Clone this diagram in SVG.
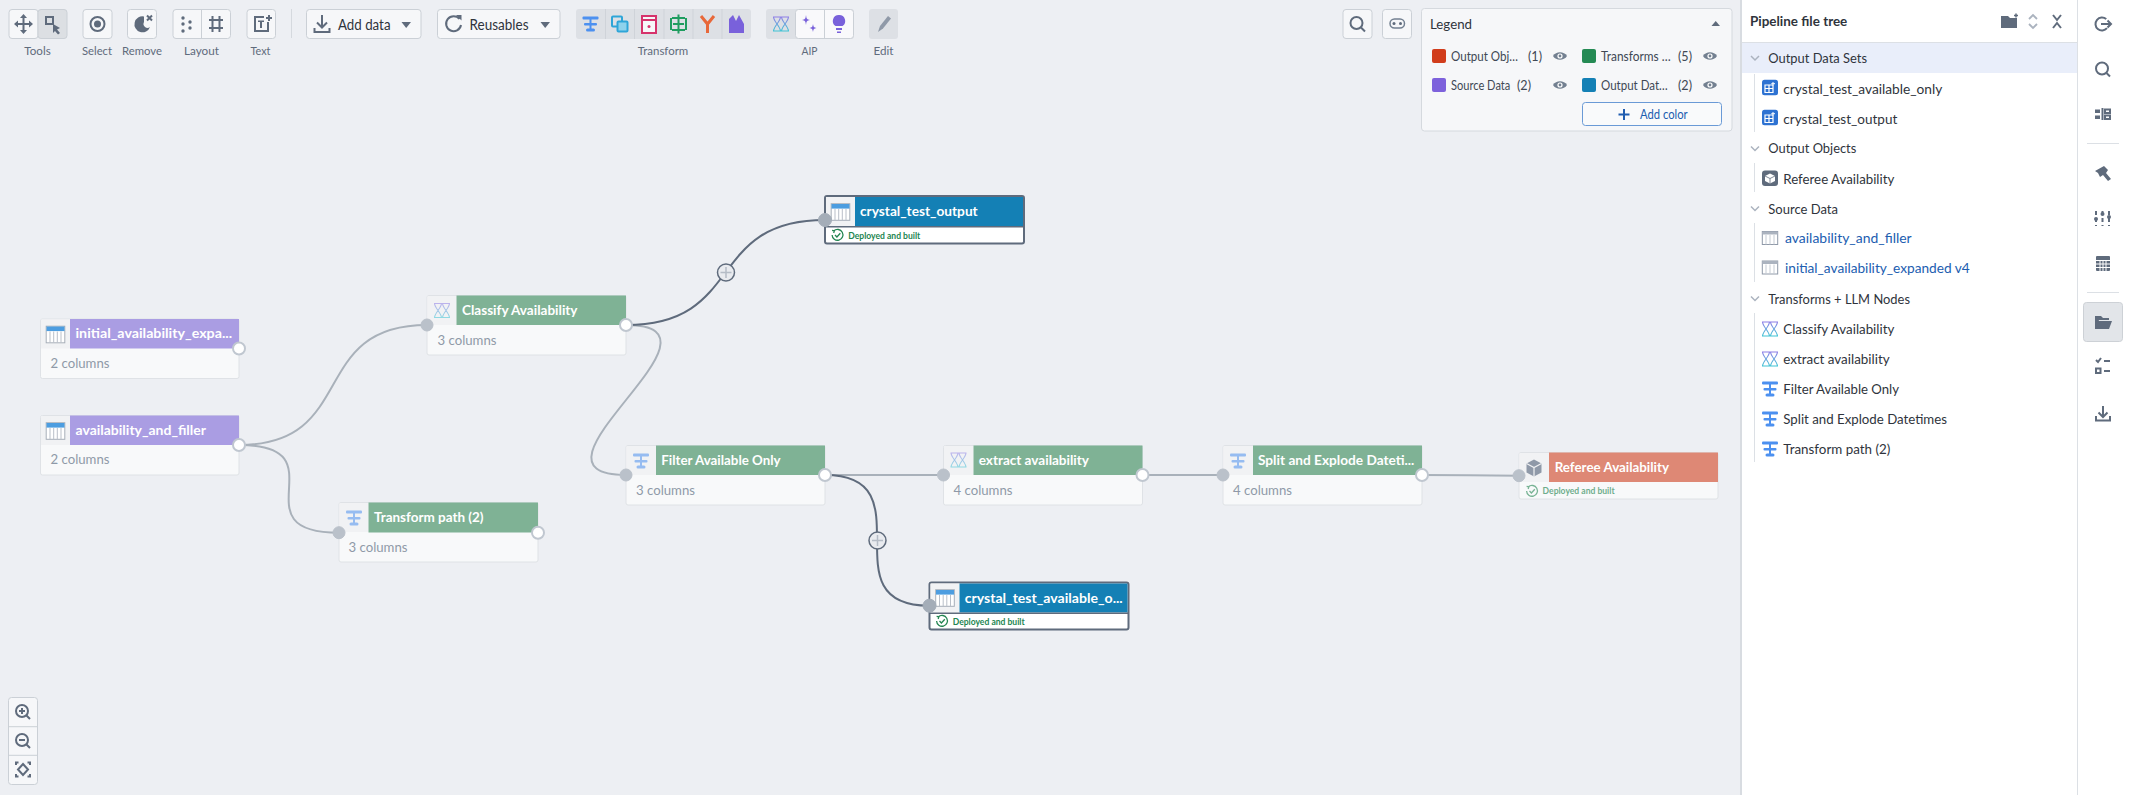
<svg xmlns="http://www.w3.org/2000/svg" width="2130" height="795" viewBox="0 0 2130 795">
<style>
text{font-family:"Lato","Open Sans","Liberation Sans",sans-serif}
.btn{fill:#f6f7f9;stroke:#cbd0d6;stroke-width:1}
.tl{font-size:12px;fill:#5f6b7c;text-anchor:middle}
.ic{fill:#5f6b7c}
.ics{fill:none;stroke:#5f6b7c;stroke-width:2}
.hd{font-size:14px;font-weight:700;fill:#fff}
.col{font-size:13.5px;fill:#8f99a8}
.body{fill:#f8f9fa;stroke:#dfe2e6;stroke-width:1}
.cell{fill:#f1f2f4}
.dep{font-size:9.5px;font-weight:700;fill:#238551}
.e{fill:none;stroke:#a9b1ba;stroke-width:2}
.ed{fill:none;stroke:#5f6b7c;stroke-width:2}
.pin{fill:#bac1ca;stroke:#bac1ca;stroke-width:1}
.pind{fill:#a4adb8;stroke:#a4adb8;stroke-width:1}
.pout{fill:#fff;stroke:#c0c7d0;stroke-width:2}
.lg{font-size:13px;fill:#404854}
.sec{font-size:14px;fill:#2f343c}
.it{font-size:14px;fill:#2f343c}
.lnk{font-size:14px;fill:#215db0}
.chev{fill:none;stroke:#abb3bf;stroke-width:1.5}
.guide{stroke:#dce0e5;stroke-width:1}
</style>
<defs>
<linearGradient id="gl" x1="0" y1="0" x2="0" y2="1"><stop offset="0" stop-color="#8f7ee6"/><stop offset="1" stop-color="#3fc4d4"/></linearGradient>
<g id="i-table"><rect x="-9.3" y="-8.3" width="18.6" height="16.6" fill="#fff" stroke="#a7aeb8" stroke-width="1"/><rect x="-9" y="-8" width="18" height="4.6" fill="#4c9de0"/><path d="M-5.5,-3V8M-1.8,-3V8M1.8,-3V8M5.5,-3V8" stroke="#b9bfc8" stroke-width="1"/></g>
<g id="i-filter" fill="#4c90f0"><rect x="-8" y="-7.5" width="16" height="3" rx="1"/><rect x="-1" y="-6" width="2" height="13"/><rect x="-6.5" y="-1" width="13" height="2.6" rx="1"/><rect x="-4.5" y="4.5" width="9" height="3" rx="1.5"/></g>
<path id="i-llm" d="M-8,-7H8M-8,7H8M-7.5,-7C-7,-2 -1,2 -0.500,7M-0.500,-7C-1,-2 -7,2 -7.5,7M0.500,-7C1,-2 7,2 7.5,7M7.5,-7C7,-2 1,2 0.500,7" fill="none" stroke="url(#gl)" stroke-width="1.1"/>
<g id="i-cube"><path d="M0,-8.5L7.5,-4.5V4.5L0,8.5L-7.5,4.5V-4.5Z" fill="#8f99a8"/><path d="M-7.5,-4.5L0,-0.5L7.5,-4.5M0,-0.5V8.5" fill="none" stroke="#f1f2f4" stroke-width="1.2"/></g>
<g id="i-check" fill="none" stroke="#238551" stroke-width="1.3"><path d="M-3.6,-4.2A5.4,5.4 0 1 1 -5.4,0"/><path d="M-5.4,-4.6L-3.2,-4.2L-3.8,-2"/><path d="M-2.5,0L-0.6,2L2.8,-1.8"/></g>
<g id="i-plusc"><circle r="8.5" fill="#e9ebef" stroke="#5f6b7c" stroke-width="1.5"/><path d="M-5.5,0H5.5M0,-5.5V5.5" stroke="#b5bcc6" stroke-width="1.5"/></g>
<g id="i-eye"><path d="M-7,0C-4,-5 4,-5 7,0C4,5 -4,5 -7,0Z" fill="#738091"/><circle r="2.6" fill="#fff"/><circle r="1.4" fill="#738091"/></g>
<path id="i-chev" class="chev" d="M-4,-2L0,2L4,-2"/>
<g id="i-ds"><rect x="-8" y="-7.7" width="16" height="15.4" rx="2.5" fill="#2d72d2"/><path d="M-5,-2.5H3V5H-5ZM-5,1H3M-1,-2.5V5" fill="none" stroke="#fff" stroke-width="1.2"/><path d="M3,-5.5V-2M1.3,-3.8H5" stroke="#fff" stroke-width="1"/></g>
<g id="i-src"><rect x="-7.7" y="-6.5" width="15.4" height="13" fill="#fff" stroke="#8f99a8" stroke-width="1"/><rect x="-7.7" y="-6.5" width="15.4" height="3" fill="#abb3bf"/><path d="M-4,-3V6.5M0,-3V6.5M4,-3V6.5" stroke="#c5cbd3" stroke-width="1"/></g>
</defs>

<rect width="2130" height="795" fill="#edeff3"/>

<g id="toolbar">
<rect class="btn" x="9" y="9.500" width="29" height="29" rx="3"/>
<rect x="38" y="9.500" width="29" height="29" rx="3" fill="#dcdfe3" stroke="#cbd0d6"/>
<path class="ics" d="M23.500,16V32M15.500,24H31.500"/>
<path class="ic" d="M23.500,14L27,18H20ZM23.500,34L27,30H20ZM14,24L18,20.500V27.500ZM33,24L29,20.500V27.500Z"/>
<rect class="ics" x="46" y="17" width="7" height="7"/><path class="ic" d="M53,24L60,28L57,29.500L60,33L58,34.500L55,31L53,33Z"/>
<rect class="btn" x="83" y="9.500" width="29" height="29" rx="3"/>
<circle cx="97.500" cy="24" r="7" class="ics"/><circle cx="97.500" cy="24" r="3.500" class="ic"/>
<rect class="btn" x="127.500" y="9.500" width="29" height="29" rx="3"/>
<path class="ic" d="M144,16.500A8,8 0 1 0 150,27A4,4 0 0 1 144,22Z"/><path class="ics" stroke-width="1.600" d="M147,15.500L152,20.500M152,15.500L147,20.500"/>
<rect class="btn" x="173" y="9.500" width="57.500" height="29" rx="3"/><path stroke="#cbd0d6" d="M201.500,9.500V38.500"/>
<g class="ic"><circle cx="183" cy="18" r="1.700"/><circle cx="183" cy="24" r="1.700"/><circle cx="183" cy="31" r="1.700"/><circle cx="190" cy="22" r="1.700"/><circle cx="190" cy="28" r="1.700"/></g>
<path class="ics" d="M209,20H223M209,28H223M212.500,16V32M219.500,16V32"/>
<rect class="btn" x="247" y="9.500" width="28.500" height="29" rx="3"/>
<path class="ics" d="M264,17H255V31H268V22"/><path class="ic" d="M258,20.500H264V22H262V28H260V22H258ZM268,15H270V17H272V19H270V21H268V19H266V17H268Z"/>
<path stroke="#d5d9de" d="M291.500,9V38"/>
<rect class="btn" x="306.500" y="9.500" width="114.500" height="29" rx="3"/>
<path class="ics" d="M322,15V27M317,22.500L322,27.500L327,22.500M314.500,28V32H329.500V28"/>
<text x="338" y="30" font-size="14.500" fill="#2f343c" textLength="52.500" lengthAdjust="spacingAndGlyphs">Add data</text><path class="ic" d="M401.500,22H411L406.200,28Z"/>
<rect class="btn" x="437.500" y="9.500" width="122.500" height="29" rx="3"/>
<path class="ics" d="M459.500,19A7.500,7.500 0 1 0 461,25"/><path class="ic" d="M456,15H461.500V20.500Z"/>
<text x="469.500" y="30" font-size="14.500" fill="#2f343c" textLength="59" lengthAdjust="spacingAndGlyphs">Reusables</text><path class="ic" d="M540.500,22H550L545.200,28Z"/>
<rect x="576" y="9" width="175" height="30" rx="3" fill="#dde0e5"/>
<path stroke="#cfd3d9" d="M605.500,9V39M634.500,9V39M664,9V39M693,9V39M722,9V39"/>
<use href="#i-filter" x="590.500" y="24"/>
<g fill="none" stroke="#2ea5d8" stroke-width="2"><rect x="612" y="16.500" width="10" height="10" rx="1"/><rect x="617.500" y="21.500" width="10" height="10" rx="1" fill="#8ed2ec"/></g>
<rect x="642" y="16" width="14" height="17" fill="#f6f7f9" stroke="#d6336c" stroke-width="2"/><path d="M642,20H656" stroke="#d6336c" stroke-width="2"/><circle cx="649" cy="26.500" r="1.500" fill="#d6336c"/>
<path d="M678.500,14.500V33.500M672,18H685M672,30H685M671,18V30M686,18V30" fill="none" stroke="#1f9d60" stroke-width="2"/><path d="M673,24H684" stroke="#1f9d60" stroke-width="2"/>
<path d="M701,16L707.500,24L714,16M707.500,24V33" fill="none" stroke="#e8683a" stroke-width="3"/>
<path d="M729,33V19L733,15L736,21L739,15L744,24V33Z" fill="#7961db"/>
<rect x="766" y="9" width="88" height="30" rx="3" fill="#dde0e5"/>
<rect x="795.500" y="9.500" width="58" height="29" rx="3" fill="#f9f9fb" stroke="#cbd0d6"/><path stroke="#cbd0d6" d="M824.500,9.500V38.500"/>
<use href="#i-llm" x="781" y="24"/>
<path fill="#7961db" d="M806,15C806.500,19 807,19.500 810,20C807,20.500 806.500,21 806,25C805.500,21 805,20.500 802,20C805,19.500 805.500,19 806,15ZM813,24C813.500,27 814,27.500 816.500,28C814,28.500 813.500,29 813,32C812.500,29 812,28.500 809.500,28C812,27.500 812.500,27 813,24Z"/>
<path fill="#7961db" d="M839,15A6,6 0 0 1 842.500,26H835.500A6,6 0 0 1 839,15ZM836,28H842V30H836ZM837,31.500H841V33H837Z"/>
<rect x="869" y="9" width="29" height="30" rx="3" fill="#dde0e5"/>
<path fill="#8f99a8" d="M878,32L880,26L888,16L891,18.500L883,28.500Z"/>
<text class="tl" x="37.500" y="55" textLength="26.400" lengthAdjust="spacingAndGlyphs">Tools</text><text class="tl" x="97" y="55" textLength="30" lengthAdjust="spacingAndGlyphs">Select</text><text class="tl" x="142" y="55" textLength="40" lengthAdjust="spacingAndGlyphs">Remove</text><text class="tl" x="201.500" y="55" textLength="35" lengthAdjust="spacingAndGlyphs">Layout</text><text class="tl" x="260.500" y="55" textLength="20" lengthAdjust="spacingAndGlyphs">Text</text><text class="tl" x="663" y="55" textLength="50.500" lengthAdjust="spacingAndGlyphs">Transform</text><text class="tl" x="809.500" y="55" textLength="16" lengthAdjust="spacingAndGlyphs">AIP</text><text class="tl" x="883.500" y="55" textLength="20" lengthAdjust="spacingAndGlyphs">Edit</text>
<rect class="btn" x="1343" y="9.500" width="29" height="29" rx="3"/>
<circle cx="1356.500" cy="23" r="6" class="ics"/><path class="ics" stroke-width="2.500" d="M1361,27.500L1365,31.500"/>
<rect class="btn" x="1382.500" y="9.500" width="29" height="29" rx="3"/>
<rect x="1390" y="19" width="14.500" height="9" rx="4.500" fill="none" stroke="#738091" stroke-width="1.500"/><circle cx="1394" cy="23.500" r="1.500" class="ic"/><circle cx="1400.500" cy="23.500" r="1.500" class="ic"/>
</g>

<g id="legend">
<rect x="1421.500" y="8.500" width="310.500" height="122.500" rx="3" fill="#f6f7f9" stroke="#d5d9de"/>
<text x="1430" y="29" font-size="14" fill="#2f343c" textLength="42" lengthAdjust="spacingAndGlyphs">Legend</text>
<path class="ic" d="M1711.500,26H1720L1715.700,21Z"/>
<rect x="1432" y="49" width="14" height="14" rx="2" fill="#d13d1c"/>
<text class="lg" x="1451" y="60.500" textLength="67" lengthAdjust="spacingAndGlyphs">Output Obj…</text><text class="lg" x="1528" y="60.500" textLength="14" lengthAdjust="spacingAndGlyphs">(1)</text><use href="#i-eye" x="1560" y="56"/>
<rect x="1582" y="49" width="14" height="14" rx="2" fill="#248a54"/>
<text class="lg" x="1601" y="60.500" textLength="69.700" lengthAdjust="spacingAndGlyphs">Transforms …</text><text class="lg" x="1678" y="60.500" textLength="14" lengthAdjust="spacingAndGlyphs">(5)</text><use href="#i-eye" x="1710" y="56"/>
<rect x="1432" y="78" width="14" height="14" rx="2" fill="#7d61dc"/>
<text class="lg" x="1451" y="89.500" textLength="59.300" lengthAdjust="spacingAndGlyphs">Source Data</text><text class="lg" x="1517" y="89.500" textLength="14" lengthAdjust="spacingAndGlyphs">(2)</text><use href="#i-eye" x="1560" y="85"/>
<rect x="1582" y="78" width="14" height="14" rx="2" fill="#1480b5"/>
<text class="lg" x="1601" y="89.500" textLength="66.700" lengthAdjust="spacingAndGlyphs">Output Dat…</text><text class="lg" x="1678" y="89.500" textLength="14" lengthAdjust="spacingAndGlyphs">(2)</text><use href="#i-eye" x="1710" y="85"/>
<rect x="1582.500" y="102.500" width="139" height="23" rx="3" fill="#f9fafb" stroke="#6a9ad6"/>
<path d="M1618.500,114.500H1629.500M1624,109V120" stroke="#215db0" stroke-width="2"/>
<text x="1640" y="119" font-size="13" fill="#215db0" textLength="47.700" lengthAdjust="spacingAndGlyphs">Add color</text>
</g>

<g id="connectors">
<path class="e" d="M239,445C359,445 307,325 427,325"/>
<path class="e" d="M239,445C344,445 234,532.700 339,532.700"/>
<path class="e" d="M626,325C746,325 506,475 626,475"/>
<path class="e" d="M825,475H943"/>
<path class="e" d="M1142,475H1223"/>
<path class="e" d="M1422,475C1460,475 1480,475.700 1519,475.700"/>
<path class="ed" d="M626,325C746,325 705,220 825,220"/>
<path class="ed" d="M825,475C929,475 825,605.700 929,605.700"/>
<use href="#i-plusc" x="726" y="272.500"/>
<use href="#i-plusc" x="877.500" y="540.500"/>
</g>

<g id="node-initial">
<rect class="body" x="40.500" y="319" width="198.500" height="59.500" rx="2"/>
<rect class="cell" x="41" y="319.500" width="29" height="29"/>
<rect x="70" y="319" width="169" height="29.500" fill="#aa9de3"/>
<use href="#i-table" x="55.500" y="334.500"/>
<text class="hd" x="75.500" y="338" textLength="156.600" lengthAdjust="spacingAndGlyphs">initial_availability_expa...</text>
<text class="col" x="50.500" y="368" textLength="59" lengthAdjust="spacingAndGlyphs">2 columns</text>
<circle class="pout" cx="239" cy="348.500" r="6"/>
</g>
<g id="node-availability">
<rect class="body" x="40.500" y="415.500" width="198.500" height="59.500" rx="2"/>
<rect class="cell" x="41" y="416" width="29" height="29"/>
<rect x="70" y="415.500" width="169" height="29.500" fill="#aa9de3"/>
<use href="#i-table" x="55.500" y="431"/>
<text class="hd" x="75.500" y="435" textLength="130.500" lengthAdjust="spacingAndGlyphs">availability_and_filler</text>
<text class="col" x="50.500" y="464" textLength="59" lengthAdjust="spacingAndGlyphs">2 columns</text>
<circle class="pout" cx="239" cy="445" r="6"/>
</g>
<g id="node-classify">
<rect class="body" x="427" y="295.500" width="199" height="59.500" rx="2"/>
<rect class="cell" x="427.500" y="296" width="29" height="29"/>
<rect x="456.500" y="295.500" width="169.500" height="29.500" fill="#7fb295"/>
<use href="#i-llm" x="442" y="310.500" opacity=".55"/>
<text class="hd" x="462" y="315" textLength="115.500" lengthAdjust="spacingAndGlyphs">Classify Availability</text>
<text class="col" x="437.500" y="345" textLength="59" lengthAdjust="spacingAndGlyphs">3 columns</text>
<circle class="pin" cx="427" cy="325" r="6"/><circle class="pout" cx="626" cy="325" r="6"/>
</g>
<g id="node-transform-path">
<rect class="body" x="339" y="502.500" width="199" height="59.500" rx="2"/>
<rect class="cell" x="339.500" y="503" width="29" height="29"/>
<rect x="368.500" y="502.500" width="169.500" height="30" fill="#7fb295"/>
<use href="#i-filter" x="354" y="518" opacity=".55"/>
<text class="hd" x="374" y="522" textLength="109.500" lengthAdjust="spacingAndGlyphs">Transform path (2)</text>
<text class="col" x="348.500" y="552" textLength="59" lengthAdjust="spacingAndGlyphs">3 columns</text>
<circle class="pin" cx="339" cy="532.700" r="6"/><circle class="pout" cx="538" cy="532.700" r="6"/>
</g>
<g id="node-filter">
<rect class="body" x="626" y="445.500" width="199" height="59.500" rx="2"/>
<rect class="cell" x="626.500" y="446" width="29.500" height="29"/>
<rect x="656" y="445.500" width="169" height="29.500" fill="#7fb295"/>
<use href="#i-filter" x="641" y="461" opacity=".55"/>
<text class="hd" x="661.300" y="465" textLength="119.300" lengthAdjust="spacingAndGlyphs">Filter Available Only</text>
<text class="col" x="636" y="495" textLength="59" lengthAdjust="spacingAndGlyphs">3 columns</text>
<circle class="pin" cx="626" cy="475" r="6"/><circle class="pout" cx="825" cy="475" r="6"/>
</g>
<g id="node-extract">
<rect class="body" x="943.500" y="445.500" width="199" height="59.500" rx="2"/>
<rect class="cell" x="944" y="446" width="29.500" height="29"/>
<rect x="973.500" y="445.500" width="169" height="29.500" fill="#7fb295"/>
<use href="#i-llm" x="958.500" y="460" opacity=".55"/>
<text class="hd" x="978.700" y="465" textLength="110.300" lengthAdjust="spacingAndGlyphs">extract availability</text>
<text class="col" x="953.500" y="495" textLength="59" lengthAdjust="spacingAndGlyphs">4 columns</text>
<circle class="pin" cx="943.500" cy="475" r="6"/><circle class="pout" cx="1142.500" cy="475" r="6"/>
</g>
<g id="node-split">
<rect class="body" x="1223" y="445.500" width="199" height="59.500" rx="2"/>
<rect class="cell" x="1223.500" y="446" width="29.500" height="29"/>
<rect x="1253" y="445.500" width="169" height="29.500" fill="#7fb295"/>
<use href="#i-filter" x="1238" y="461" opacity=".55"/>
<text class="hd" x="1258" y="465" textLength="156.300" lengthAdjust="spacingAndGlyphs">Split and Explode Dateti...</text>
<text class="col" x="1233" y="495" textLength="59" lengthAdjust="spacingAndGlyphs">4 columns</text>
<circle class="pin" cx="1223" cy="475" r="6"/><circle class="pout" cx="1422" cy="475" r="6"/>
</g>
<g id="node-referee">
<rect class="body" x="1519" y="452.500" width="199" height="46.500" rx="2"/>
<rect class="cell" x="1519.500" y="453" width="29.500" height="29"/>
<rect x="1549" y="452.500" width="169" height="29.500" fill="#de8875"/>
<use href="#i-cube" x="1534" y="468"/>
<text class="hd" x="1554.700" y="472" textLength="114.300" lengthAdjust="spacingAndGlyphs">Referee Availability</text>
<use href="#i-check" x="1532" y="491" opacity=".6"/>
<text class="dep" x="1542.600" y="494" opacity=".65" textLength="72" lengthAdjust="spacingAndGlyphs">Deployed and built</text>
<circle class="pin" cx="1519" cy="475.700" r="6"/>
</g>
<g id="node-crystal-output">
<rect x="825" y="196" width="199" height="47.500" rx="2" fill="#fff" stroke="#5f6b7c" stroke-width="2"/>
<rect x="826" y="197" width="29" height="29" fill="#f1f2f4"/>
<rect x="855" y="197" width="168" height="29" fill="#1480b5"/>
<rect x="825" y="226" width="199" height="1.500" fill="#5f6b7c"/>
<use href="#i-table" x="840.500" y="212"/>
<text class="hd" x="860" y="216" textLength="117.700" lengthAdjust="spacingAndGlyphs">crystal_test_output</text>
<use href="#i-check" x="837.500" y="235"/>
<text class="dep" x="848.300" y="238.500" textLength="72" lengthAdjust="spacingAndGlyphs">Deployed and built</text>
<circle class="pind" cx="825" cy="220" r="6.500"/>
</g>
<g id="node-crystal-available">
<rect x="929.500" y="582.500" width="199" height="47" rx="2" fill="#fff" stroke="#5f6b7c" stroke-width="2"/>
<rect x="930.500" y="583.500" width="29" height="29" fill="#f1f2f4"/>
<rect x="959.500" y="583.500" width="168" height="29" fill="#1480b5"/>
<rect x="929.500" y="612.500" width="199" height="1.500" fill="#5f6b7c"/>
<use href="#i-table" x="945" y="598"/>
<text class="hd" x="964.700" y="602.500" textLength="158" lengthAdjust="spacingAndGlyphs">crystal_test_available_o...</text>
<use href="#i-check" x="942" y="621"/>
<text class="dep" x="952.700" y="624.500" textLength="72" lengthAdjust="spacingAndGlyphs">Deployed and built</text>
<circle class="pind" cx="929.500" cy="605.700" r="6.500"/>
</g>

<g id="zoom-controls">
<rect class="btn" x="8.500" y="697.500" width="29" height="87" rx="3"/>
<path stroke="#cbd0d6" d="M8.500,726.700H37.500M8.500,755.300H37.500"/>
<circle cx="22" cy="711" r="6" class="ics"/><path class="ics" d="M26.500,715.500L30,719M19,711H25M22,708V714"/>
<circle cx="22" cy="740" r="6" class="ics"/><path class="ics" d="M26.500,744.500L30,748M19,740H25"/>
<path class="ics" stroke-width="1.500" d="M16,765V762.500H18.500M27.500,762.500H30V765M30,774V776.500H27.500M18.500,776.500H16V774"/><path class="ics" stroke-width="1.500" d="M23,764L28,769.500L23,775L18,769.500Z"/>
</g>

<g id="file-tree">
<rect x="1740" y="0" width="2" height="795" fill="#d8dce1"/>
<rect x="1742" y="0" width="388" height="795" fill="#fff"/>
<path stroke="#dce0e5" d="M1742,42.500H2077M2077.500,0V795"/>
<rect x="1742" y="43" width="335" height="30" fill="#e9eefa"/>
<text x="1750" y="26" font-size="14" font-weight="700" fill="#2f343c" textLength="97.300" lengthAdjust="spacingAndGlyphs">Pipeline file tree</text>
<path class="ic" d="M2001,16H2008L2010,18H2017V28H2001Z"/><path d="M2014,15.500H2018M2016,13.500V17.500" stroke="#5f6b7c" stroke-width="1.500"/>
<path fill="none" stroke="#abb3bf" stroke-width="1.800" d="M2029,19L2033,15L2037,19M2029,24L2033,28L2037,24"/>
<path class="ics" stroke-width="1.800" d="M2053,15L2057,20L2061,15M2053,28L2057,23L2061,28"/>
<path class="guide" d="M1754.500,74V132M1754.500,163V192M1754.500,223V282M1754.500,313V462"/>
<use href="#i-chev" x="1755" y="58"/><text class="sec" x="1768.300" y="63" textLength="98.700" lengthAdjust="spacingAndGlyphs">Output Data Sets</text>
<use href="#i-ds" x="1770" y="87.500"/><text class="it" x="1783.300" y="93.500" textLength="159" lengthAdjust="spacingAndGlyphs">crystal_test_available_only</text>
<use href="#i-ds" x="1770" y="117.500"/><text class="it" x="1783.300" y="123.500" textLength="114" lengthAdjust="spacingAndGlyphs">crystal_test_output</text>
<use href="#i-chev" x="1755" y="148.500"/><text class="sec" x="1768.300" y="153" textLength="88" lengthAdjust="spacingAndGlyphs">Output Objects</text>
<rect x="1762" y="170.500" width="16" height="15.500" rx="3" fill="#5f6b7c"/><path d="M1770,173.500L1775,176V181L1770,183.500L1765,181V176Z" fill="#fff"/><path d="M1765,176L1770,178.500L1775,176M1770,178.500V183.500" fill="none" stroke="#5f6b7c" stroke-width=".8"/>
<text class="it" x="1783.300" y="183.500" textLength="111" lengthAdjust="spacingAndGlyphs">Referee Availability</text>
<use href="#i-chev" x="1755" y="208.500"/><text class="sec" x="1768.300" y="213.500" textLength="69.700" lengthAdjust="spacingAndGlyphs">Source Data</text>
<use href="#i-src" x="1770" y="238"/><text class="lnk" x="1785" y="242.500" textLength="126.700" lengthAdjust="spacingAndGlyphs">availability_and_filler</text>
<use href="#i-src" x="1770" y="267.500"/><text class="lnk" x="1785" y="272.500" textLength="184.700" lengthAdjust="spacingAndGlyphs">initial_availability_expanded v4</text>
<use href="#i-chev" x="1755" y="298.500"/><text class="sec" x="1768.300" y="303.500" textLength="141.700" lengthAdjust="spacingAndGlyphs">Transforms + LLM Nodes</text>
<use href="#i-llm" x="1770" y="329"/><text class="it" x="1783.300" y="333.500" textLength="111" lengthAdjust="spacingAndGlyphs">Classify Availability</text>
<use href="#i-llm" x="1770" y="359"/><text class="it" x="1783.300" y="363.500" textLength="106.300" lengthAdjust="spacingAndGlyphs">extract availability</text>
<use href="#i-filter" x="1770" y="389"/><text class="it" x="1783.300" y="393.500" textLength="115.700" lengthAdjust="spacingAndGlyphs">Filter Available Only</text>
<use href="#i-filter" x="1770" y="419"/><text class="it" x="1783.300" y="423.500" textLength="163.700" lengthAdjust="spacingAndGlyphs">Split and Explode Datetimes</text>
<use href="#i-filter" x="1770" y="449"/><text class="it" x="1783.300" y="453.500" textLength="107" lengthAdjust="spacingAndGlyphs">Transform path (2)</text>
</g>

<g id="sidebar">
<circle cx="2102" cy="24" r="6.500" class="ics" stroke-dasharray="30 11" transform="rotate(40 2102 24)"/><path class="ics" d="M2101,24H2111M2107.500,20.500L2111,24L2107.500,27.500"/>
<circle cx="2102" cy="68.500" r="6" class="ics"/><path class="ics" stroke-width="2.500" d="M2106.500,73L2110,76.500"/>
<path class="ic" d="M2095,109.500H2100V113H2095ZM2095,115.500H2100V119H2095Z"/><path class="ics" d="M2102.500,108V120"/><path class="ics" stroke-width="1.200" d="M2105,109.500H2110V113H2105ZM2105,115.500H2110V119H2105Z"/>
<path stroke="#dce0e5" d="M2087,143.500H2119M2087,292.500H2119"/>
<path class="ic" d="M2095,171L2104,166L2108,170L2106,173L2111,179L2108,181L2103,175L2100,177L2098,173Z"/>
<path class="ics" d="M2096,211V226M2102.500,211V226M2109,211V226" stroke-dasharray="4 3"/><circle class="ic" cx="2096" cy="219" r="2"/><circle class="ic" cx="2102.500" cy="214" r="2"/><circle class="ic" cx="2109" cy="217" r="2"/>
<rect x="2096" y="256" width="14" height="15" rx="1" class="ic"/><path stroke="#fff" d="M2096,260.500H2110M2096,264H2110M2096,267.500H2110M2100,260.500V271M2103,260.500V271M2106,260.500V271"/>
<rect x="2083.500" y="302.500" width="39" height="39" rx="3" fill="#e2e5e9" stroke="#cdd1d6"/>
<path class="ic" d="M2095,316H2101L2103,318H2109V320H2099L2096,329H2095ZM2098,321H2112L2109,329H2096Z"/>
<path class="ics" stroke-width="1.500" d="M2096,360L2098,362L2101,358"/><rect x="2096" y="368.500" width="4.500" height="4.500" class="ics" stroke-width="1.500"/><path class="ics" d="M2104,361H2110M2104,371H2110"/>
<path class="ics" d="M2103,406V417M2098.500,412.500L2103,417L2107.500,412.500M2096,416V420.500H2110V416"/>
</g>
</svg>
